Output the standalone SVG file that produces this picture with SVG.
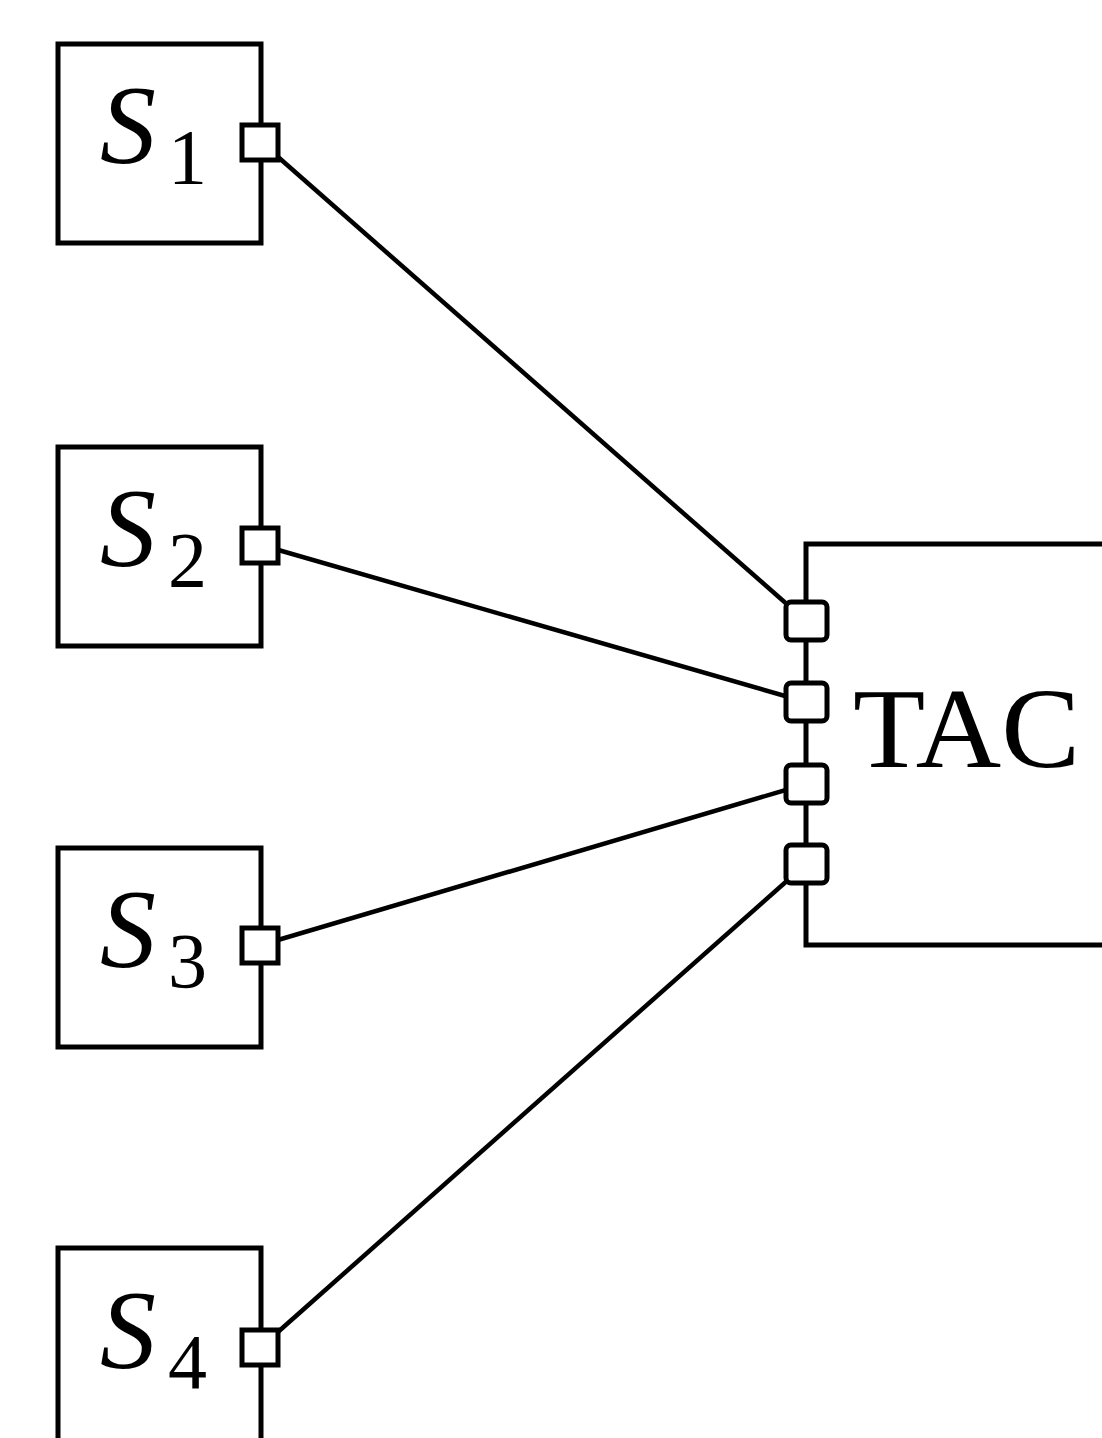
<svg xmlns="http://www.w3.org/2000/svg" width="1102" height="1438" viewBox="0 0 1102 1438">
<style>
.box{fill:#fff;stroke:#000;stroke-width:5}
.port{fill:#fff;stroke:#000;stroke-width:5}
.wire{stroke:#000;stroke-width:4.5;fill:none}
.lbl{font-family:'Liberation Serif',serif;font-style:italic;font-size:112px;fill:#000}
.sub{font-style:normal;font-size:78px}
.tac{font-family:'Liberation Serif',serif;font-size:114px;fill:#000}
</style>
<rect width="1102" height="1438" fill="#fff"/>
<g id="tac">
<path class="box" d="M1110,544 H806 V945 H1110"/>
<text class="tac" x="853" y="767" textLength="227" lengthAdjust="spacingAndGlyphs">TAC</text>
</g>
<g id="s1">
<rect class="box" x="58" y="44" width="203" height="199"/>
<text class="lbl" x="100" y="163">S<tspan class="sub" dx="12" dy="20">1</tspan></text>
</g>
<g id="s2">
<rect class="box" x="58" y="447" width="203" height="199"/>
<text class="lbl" x="100" y="566">S<tspan class="sub" dx="12" dy="20">2</tspan></text>
</g>
<g id="s3">
<rect class="box" x="58" y="848" width="203" height="199"/>
<text class="lbl" x="100" y="967">S<tspan class="sub" dx="12" dy="20">3</tspan></text>
</g>
<g id="s4">
<rect class="box" x="58" y="1248" width="203" height="220"/>
<text class="lbl" x="100" y="1368">S<tspan class="sub" dx="12" dy="20">4</tspan></text>
</g>
<g id="connectors">
<line class="wire" x1="261" y1="142" x2="806" y2="621"/>
<line class="wire" x1="261" y1="545" x2="806" y2="702"/>
<line class="wire" x1="261" y1="945" x2="806" y2="784"/>
<line class="wire" x1="261" y1="1347" x2="806" y2="864"/>
</g>
<g id="ports">
<rect class="port" x="242" y="125" width="36" height="35"/>
<rect class="port" x="242" y="528" width="36" height="35"/>
<rect class="port" x="242" y="928" width="36" height="35"/>
<rect class="port" x="242" y="1330" width="36" height="35"/>
<rect class="port" x="786" y="602" width="41" height="38" rx="5"/>
<rect class="port" x="786" y="683" width="41" height="38" rx="5"/>
<rect class="port" x="786" y="765" width="41" height="38" rx="5"/>
<rect class="port" x="786" y="845" width="41" height="38" rx="5"/>
</g>
</svg>
